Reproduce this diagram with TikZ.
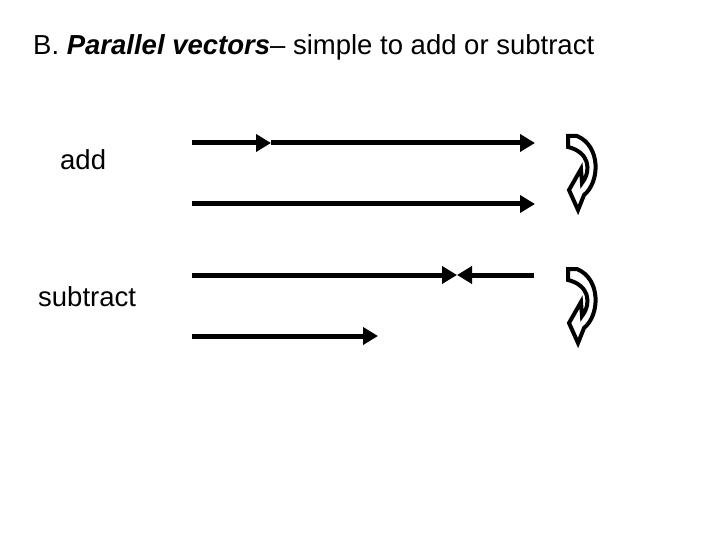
\documentclass[tikz,border=0pt]{standalone}
\usepackage{fontspec}
\setmainfont{Liberation Sans}
\usetikzlibrary{arrows.meta}
\begin{document}
\begin{tikzpicture}[x=1pt,y=-1pt,
  vec/.style={line width=5pt,-{Triangle[length=15pt,width=17pt]}},
  lbl/.style={anchor=base west,inner sep=0,font=\fontsize{27.5}{32}\selectfont},
  curl/.style={fill=white,draw=black,line width=4pt,line join=miter}]
\useasboundingbox (0,0) rectangle (720,540);
\node[lbl] (title) at (33,55) {B. \textbf{\textit{Parallel vectors}}– simple to add or subtract};
\node[lbl] (add) at (60,170) {add};
\node[lbl] (sub) at (38,306) {subtract};
\coordinate (a1) at (192,143); \coordinate (a2) at (271,143); \coordinate (a3) at (535,143);
\coordinate (b1) at (192,204); \coordinate (b2) at (535,204);
\coordinate (c1) at (192,275); \coordinate (c2) at (457,275); \coordinate (c3) at (534,275); \coordinate (c4) at (457,275);
\coordinate (d1) at (192,336); \coordinate (d2) at (378,336);
\draw[vec] (a1) -- (a2);
\draw[vec] (a2) -- (a3);
\draw[vec] (b1) -- (b2);
\draw[vec] (c1) -- (c2);
\draw[vec] (c3) -- (c4);
\draw[vec] (d1) -- (d2);
\foreach \dy in {0,133}{
\draw[curl,yshift=-\dy] (568,136) -- (577,136) .. controls (601,146) and (600,182) .. (584,195)
  -- (578,210) -- (569,190) -- (581,169) -- (582,183) .. controls (592,170) and (589,152) .. (568,147) -- cycle;
}
\end{tikzpicture}
\end{document}
